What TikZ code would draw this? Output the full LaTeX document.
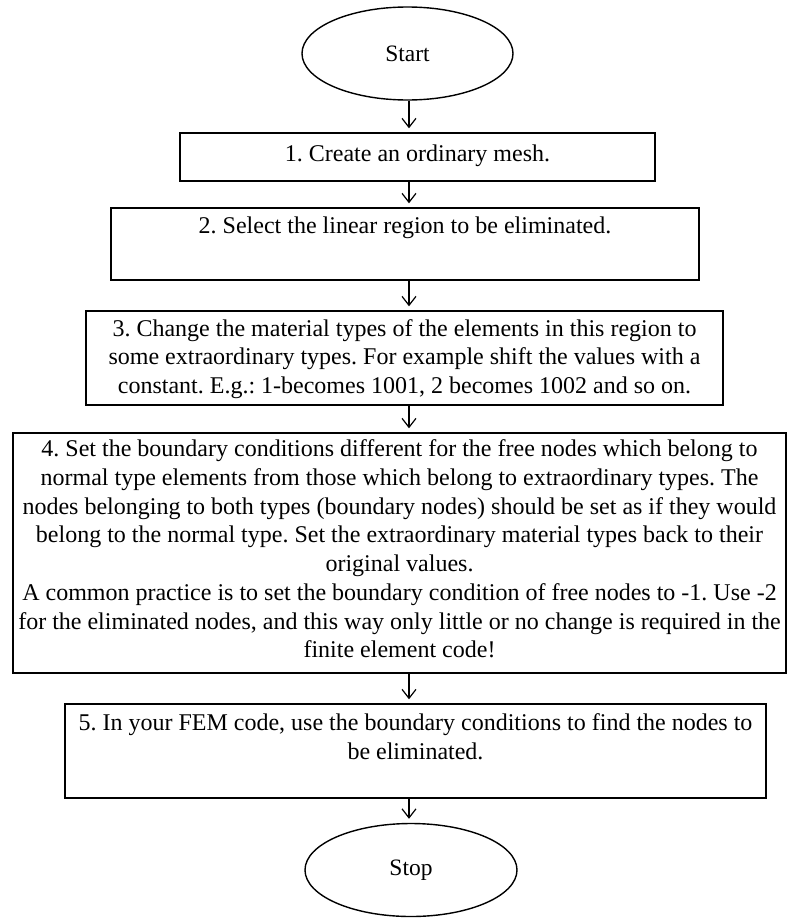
\documentclass[tikz,border=0pt]{standalone}
\usepackage{fontspec}
\setmainfont{Liberation Serif}
\frenchspacing
\usetikzlibrary{arrows.meta,shapes.geometric}
\begin{document}
\frenchspacing
\begin{tikzpicture}[x=1pt,y=-1pt,
  box/.style={draw, line width=1.4pt, rectangle, inner sep=0pt},
  oval/.style={draw, line width=1.4pt, ellipse, inner sep=0pt, font=\fontsize{23.5}{29}\selectfont},
  txt/.style={align=center, inner sep=0pt, font=\fontsize{24}{28.7}\selectfont},
  arr/.style={-{Straight Barb[length=9pt,width=14pt,line width=1.2pt]}, line width=1.2pt, shorten >=4pt}]
\useasboundingbox (0,0) rectangle (789,918);
\coordinate (col) at (409,0);
\node[oval, minimum width=211pt, minimum height=93pt] (start) at (407.5,53.5) {Start};
\node[box, minimum width=475pt, minimum height=48pt] (b1) at (417.5,157) {};
\node[box, minimum width=588pt, minimum height=72pt] (b2) at (405,244) {};
\node[box, minimum width=637pt, minimum height=94pt] (b3) at (404.5,358) {};
\node[box, minimum width=773pt, minimum height=240pt] (b4) at (399.5,553) {};
\node[box, minimum width=701pt, minimum height=94pt] (b5) at (415.5,751) {};
\node[oval, minimum width=212pt, minimum height=93pt] (stop) at (411,870) {Stop};
\node[txt] (t1) at (417.5,156) {1. Create an ordinary mesh.};
\node[txt] (t2) at (405,228) {2. Select the linear region to be eliminated.};
\node[txt] (t3) at (404.5,359) {3. Change the material types of the elements in this region to\\some extraordinary types. For example shift the values with a\\constant. E.g.: 1-becomes 1001, 2 becomes 1002 and so on.};
\node[txt] (t4) at (399.5,549) {4. Set the boundary conditions different for the free nodes which belong to\\normal type elements from those which belong to extraordinary types. The\\nodes belonging to both types (boundary nodes) should be set as if they would\\belong to the normal type. Set the extraordinary material types back to their\\original values.\\A common practice is to set the boundary condition of free nodes to -1. Use -2\\for the eliminated nodes, and this way only little or no change is required in the\\finite element code!};
\node[txt] (t5) at (415.5,737) {5. In your FEM code, use the boundary conditions to find the nodes to\\be eliminated.};
\draw[arr] (start.south -| col) -- (b1.north -| col);
\draw[arr] (b1.south -| col) -- (b2.north -| col);
\draw[arr] (b2.south -| col) -- (b3.north -| col);
\draw[arr] (b3.south -| col) -- (b4.north -| col);
\draw[arr] (b4.south -| col) -- (b5.north -| col);
\draw[arr] (b5.south -| col) -- (stop.north -| col);
\end{tikzpicture}
\end{document}
